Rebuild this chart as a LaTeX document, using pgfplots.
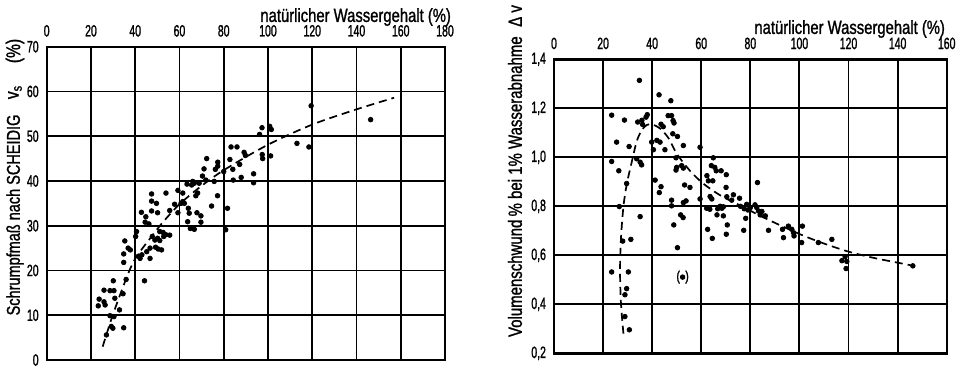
\documentclass[border=0pt]{standalone}
\usepackage{fontspec}
\setmainfont{Liberation Sans}[FakeStretch=0.78, FakeBold=1.2]
\newfontfamily\tickfont{Liberation Sans}[FakeStretch=0.64, FakeBold=1.2]
\usepackage{pgfplots}
\pgfplotsset{compat=1.18}
\pgfplotstableread{
X Y
23.7 13.6
23.3 12.1
25.9 13.0
26.4 12.3
25.9 15.6
28.6 15.5
30.4 15.5
30.1 17.7
30.8 13.8
28.6 9.9
30.4 9.7
29.2 7.5
29.9 7.1
27.0 5.6
32.9 11.2
34.5 14.8
34.8 7.2
35.9 18.0
34.8 21.8
34.8 23.7
35.3 26.6
36.8 25.0
37.8 24.6
40.6 28.7
40.2 27.6
41.5 23.2
42.2 22.7
43.0 23.5
44.2 17.7
46.7 22.7
45.2 24.2
46.7 25.0
42.8 33.0
44.8 32.0
44.5 30.8
46.2 30.4
47.4 33.3
47.4 35.5
47.4 37.1
49.6 35.0
50.1 32.9
47.7 27.6
48.9 26.8
50.1 27.2
51.1 28.7
52.6 28.5
52.9 27.6
51.9 24.6
50.4 24.8
49.2 25.2
53.8 28.0
51.1 26.7
55.6 27.9
53.9 37.3
55.6 33.4
57.8 34.8
59.3 32.9
59.3 37.9
61.5 37.3
60.7 35.0
61.5 35.4
62.2 35.0
63.4 39.3
64.0 33.9
64.4 32.8
63.7 30.9
64.9 29.4
66.7 29.2
65.5 39.1
66.0 39.9
66.7 39.5
67.4 36.7
68.2 37.3
67.9 32.9
69.7 32.2
69.7 30.8
68.9 39.5
70.4 41.1
71.9 40.2
74.5 34.4
77.2 36.7
75.7 39.9
80.0 42.1
81.7 33.9
80.9 29.1
84.3 40.2
87.9 40.8
93.5 41.6
93.5 39.6
119.5 56.8
146.4 53.7
113.1 48.4
118.5 47.6
96.2 50.4
97.3 51.9
100.8 52.2
101.5 51.5
101.2 45.6
97.4 45.9
97.6 45.0
83.3 47.6
86.0 47.6
89.2 46.4
89.8 45.7
82.8 44.8
87.2 43.7
84.1 42.6
72.3 45.0
77.3 44.2
77.3 43.3
76.2 42.6
71.1 42.7
}\leftdata
\pgfplotstableread{
X Y
25.3 3.0
30.1 10.4
36.9 19.4
40.6 23.1
47.4 27.6
52.7 30.9
60 34.8
69.7 38.8
80.3 42.5
100 48.1
120 52.6
140 56.0
157 58.6
}\leftcurve
\pgfplotstableread{
X Y
34.8 1.314
42.8 1.255
47.6 1.231
23.5 1.172
28.7 1.152
34.1 1.144
35.8 1.151
37.5 1.164
38.0 1.174
36.1 1.134
46.5 1.170
47.9 1.170
48.5 1.150
48.9 1.140
43.6 1.135
44.5 1.125
48.4 1.096
50.3 1.085
25.5 1.062
30.6 1.044
39.8 1.062
41.9 1.069
40.5 1.031
43.2 1.062
45.2 1.031
52.7 1.048
59.5 1.041
33.7 0.994
35.1 0.980
35.7 0.969
23.5 0.983
26.4 0.945
49.7 0.998
50.0 0.959
52.0 0.966
52.7 0.956
49.7 0.948
64.9 0.998
64.1 0.966
65.5 0.959
66.1 0.945
68.1 0.945
70.2 0.929
62.3 0.925
62.9 0.904
64.7 0.904
29.6 0.893
41.2 0.907
43.6 0.880
42.9 0.856
53.2 0.887
55.4 0.877
70.1 0.877
82.9 0.897
59.5 0.830
64.3 0.830
70.4 0.839
73.1 0.847
75.6 0.833
26.6 0.799
35.1 0.758
28.0 0.658
31.3 0.665
23.5 0.532
30.3 0.532
29.6 0.464
28.9 0.439
28.9 0.350
30.7 0.296
47.9 0.825
47.9 0.802
53.8 0.822
52.7 0.815
63.6 0.840
51.6 0.765
52.6 0.754
48.8 0.724
62.2 0.792
63.5 0.788
66.7 0.790
67.7 0.800
68.4 0.792
69.0 0.798
66.4 0.765
69.0 0.761
62.6 0.706
64.5 0.669
70.6 0.724
70.2 0.686
72.4 0.825
76.0 0.800
77.5 0.790
78.5 0.808
79.0 0.785
80.0 0.795
77.3 0.702
78.1 0.751
81.9 0.806
82.6 0.795
83.3 0.781
84.7 0.779
84.0 0.765
86.1 0.761
87.4 0.702
50.3 0.631
93.1 0.706
93.5 0.672
95.5 0.719
96.9 0.706
97.6 0.692
97.8 0.679
101.2 0.719
100.9 0.652
107.7 0.652
113.2 0.665
117.3 0.578
118.6 0.594
119.3 0.575
119.0 0.546
146.2 0.557
}\rightdata
\pgfplotstableread{
X Y
28.3 0.28
27.3 0.40
26.9 0.537
27.3 0.672
28.3 0.80
29.6 0.888
31.7 0.982
33.7 1.065
35.7 1.11
37.8 1.132
40.0 1.134
43.2 1.118
46.6 1.079
50.0 1.015
55.4 0.945
60.9 0.892
67.7 0.845
74.5 0.810
80.0 0.782
86.7 0.748
100.0 0.687
110.0 0.648
120.0 0.615
130.0 0.590
140.0 0.570
146.0 0.558
}\rightcurve
\begin{document}
\begin{tikzpicture}
\path[use as bounding box] (0pt,0pt) rectangle (479pt,182.5pt);
\pgfplotsset{
  base/.style={
    scale only axis,
    anchor=south west,
    axis line style={line width=1.2pt},
    grid=major,
    major grid style={black,line width=0.95pt},
    major tick length=0pt,
    xticklabel pos=upper,
    tick label style={font=\tickfont\fontsize{8.2}{9}\selectfont},
    xticklabel style={yshift=1.5pt},
    yticklabel style={xshift=-0.5pt},
    /pgf/number format/assume math mode=true,
    every axis plot/.append style={black},
  },
  pts/.style={only marks, mark=*, mark size=1.15pt},
  crv/.style={no marks, smooth, line width=0.85pt, dash pattern=on 4pt off 2.5pt},
}
\begin{axis}[base, at={(23.35pt,2.5pt)}, width=199.15pt, height=156.65pt,
  xmin=0, xmax=180, ymin=0, ymax=70,
  xtick={0,20,...,180}, ytick={0,10,...,70}]
\addplot[pts] table[x=X,y=Y] {\leftdata};
\addplot[crv] table[x=X,y=Y] {\leftcurve};
\end{axis}
\begin{axis}[base, at={(277pt,5.85pt)}, width=196.35pt, height=147pt,
  xmin=0, xmax=160, ymin=0.2, ymax=1.4,
  xtick={0,20,...,160}, ytick={0.2,0.4,...,1.4},
  yticklabel style={/pgf/number format/.cd, fixed, fixed zerofill, precision=1, use comma}]
\addplot[pts] table[x=X,y=Y] {\rightdata};
\addplot[pts] coordinates {(52.4,0.511)};
\addplot[crv] table[x=X,y=Y] {\rightcurve};
\node[font=\fontsize{7}{8}\selectfont] at (axis cs:52.4,0.511) {(\hspace{2.6pt})};
\end{axis}
\node[anchor=east, font=\fontsize{9.5}{11}\selectfont] at (229pt,174pt) {natürlicher Wassergehalt (\%)};
\node[anchor=east, font=\fontsize{9.5}{11}\selectfont] at (476pt,168pt) {natürlicher Wassergehalt (\%)};
\node[rotate=90, font=\fontsize{9.3}{11}\selectfont] at (7.5pt,75pt) {Schrumpfmaß nach SCHEIDIG};
\node[rotate=90, font=\fontsize{10}{11}\selectfont] at (7.5pt,136.5pt) {v\textsubscript{s}};
\node[rotate=90, font=\fontsize{10}{11}\selectfont] at (7.5pt,157pt) {(\%)};
\node[rotate=90, font=\fontsize{9.6}{11}\selectfont] at (257.5pt,97pt) {Volumenschwund\,\% bei 1\% Wasserabnahme\enspace Δ v};
\end{tikzpicture}
\end{document}
